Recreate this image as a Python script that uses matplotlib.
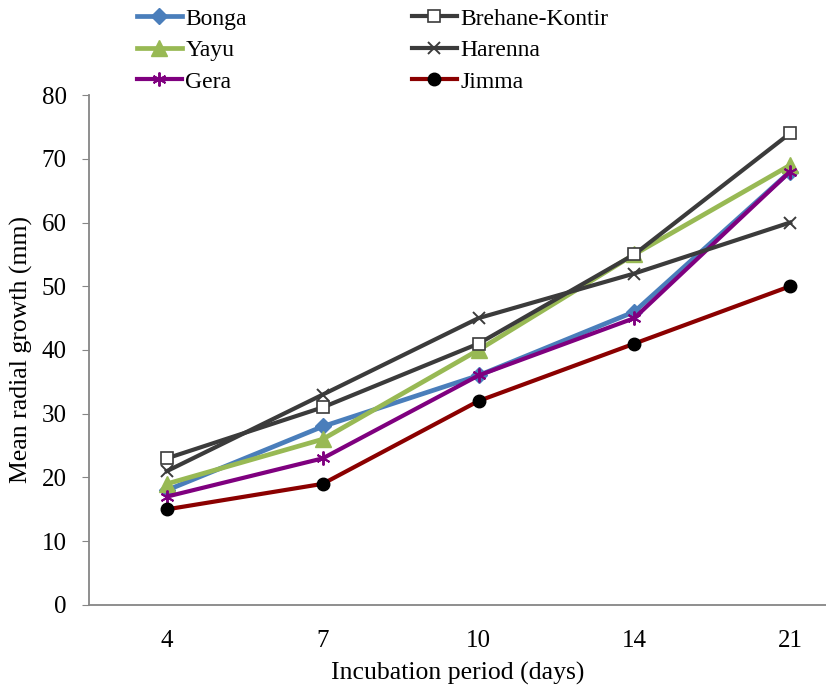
import matplotlib
matplotlib.use("Agg")
import matplotlib.pyplot as plt

days = ["4", "7", "10", "14", "21"]
bonga = [18, 28, 36, 46, 68]
brehane = [23, 31, 41, 55, 74]
yayu = [19, 26, 40, 55, 69]
harenna = [21, 33, 45, 52, 60]
gera = [17, 23, 36, 45, 68]
jimma = [15, 19, 32, 41, 50]

plt.rcParams['font.family'] = ['Liberation Serif', 'DejaVu Serif']

fig = plt.figure(figsize=(8.26, 6.86), dpi=100)
ax = fig.add_axes([0.1077, 0.1181, 0.8923, 0.7434])
x = list(range(len(days)))

h_bonga, = ax.plot(x, bonga, color='#4A7EBB', lw=3.4, marker='D', ms=8, label='Bonga')
h_yayu, = ax.plot(x, yayu, color='#98B954', lw=3.4, marker='^', ms=12, label='Yayu')
h_gera, = ax.plot(x, gera, color='#7F007F', lw=3.0, marker=(6, 2, 0), ms=10, mew=1.4, label='Gera')
h_breh, = ax.plot(x, brehane, color='#3B3B3B', lw=3.0, marker='s', ms=9, mfc='white', mec='#3B3B3B', mew=1.2, label='Brehane-Kontir')
h_har, = ax.plot(x, harenna, color='#3B3B3B', lw=3.0, marker='x', ms=9, mew=1.4, label='Harenna')
h_jim, = ax.plot(x, jimma, color='#8B0000', lw=3.0, marker='o', ms=9, mfc='black', mec='black', label='Jimma')

ax.set_xlim(-0.5, 4.23)
ax.set_ylim(0, 80)
ax.set_yticks(range(0, 81, 10))
ax.set_xticks(x)
ax.set_xticklabels(days)
ax.tick_params(axis='y', direction='out', length=5, color='#868686', labelsize=18, pad=11)
ax.tick_params(axis='x', length=0, labelsize=18, pad=18)
for s in ['top', 'right']:
    ax.spines[s].set_visible(False)
for s in ['left', 'bottom']:
    ax.spines[s].set_color('#868686')
    ax.spines[s].set_linewidth(1.3)

ax.set_ylabel('Mean radial growth (mm)', fontsize=18.5, labelpad=6)
ax.set_xlabel('Incubation period (days)', fontsize=18.5, labelpad=7)

fig.legend(handles=[h_bonga, h_yayu, h_gera, h_breh, h_har, h_jim], ncol=2,
           loc='upper left', bbox_to_anchor=(0.16, 0.995), frameon=False,
           fontsize=17, handlelength=1.9, handletextpad=0.15, columnspacing=7.0,
           labelspacing=0.42, borderaxespad=0, borderpad=0.2)

fig.savefig('out.png', dpi=100)
